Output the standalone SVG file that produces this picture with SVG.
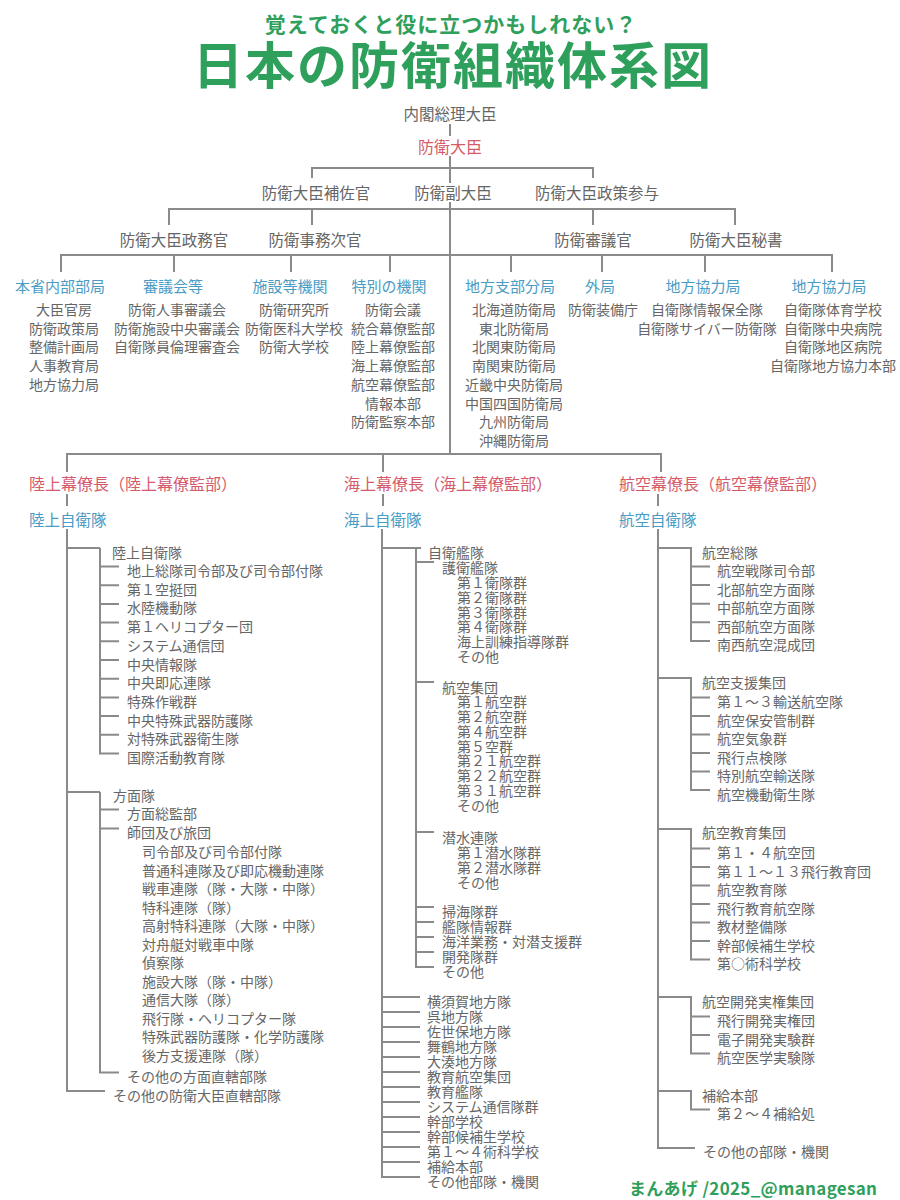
<svg xmlns="http://www.w3.org/2000/svg" width="900" height="1200" viewBox="0 0 900 1200">
<style>
text{font-family:"Noto Sans CJK JP","Noto Sans CJK SC",sans-serif;dominant-baseline:central}
.ln{stroke:#8a8a8a;stroke-width:2;fill:none}
.t{font-size:14px;fill:#666}
.o{font-size:15.5px;fill:#666}
.h{font-size:15px;fill:#4a9cc4}
.r{font-size:16px;fill:#d45a6b}
.b{font-size:15.5px;fill:#4a9cc4}
.m{text-anchor:middle}
.g{fill:#2fa05c;font-weight:bold}
</style>
<rect width="900" height="1200" fill="#fff"/>
<g id="title">
<text class="g m" x="451" y="23" font-size="21" letter-spacing="1">覚えておくと役に立つかもしれない？</text>
<text class="g m" x="453" y="62" font-size="50" font-weight="900" letter-spacing="2">日本の防衛組織体系図</text>
</g>
<g id="connectors" class="ln">
<path d="M450 124V136M450 156V183M312 178V168H593V178M450 202V454M169 225V209H735V225M312 209V225M593 209V225"/>
<path d="M61 272V255H832V272M174 255V272M291 255V272M390 255V272M511 255V272M602 255V272M705 255V272"/>
<path d="M67 472V454H661V472M383 454V472"/>
<path d="M67 494V506M383 494V506M658 494V506"/>
<!-- army -->
<path d="M67 529V1091H105M67 548H100M100 548V753.5H119M100 566.5H119M100 585.2H119M100 603.9H119M100 622.6H119M100 641.3H119M100 660H119M100 678.7H119M100 697.4H119M100 716.1H119M100 734.8H119"/>
<path d="M67 792H100M100 792V1072.5H119M100 809.5H119M100 828.5H119"/>
<!-- navy -->
<path d="M382 529V1177H420M382 548H421M416 548V967H434M416 562H434M416 682H434M416 832H434M416 907H434M416 922H434M416 937H434M416 952H434"/>
<path d="M382 997H420M382 1012H420M382 1027H420M382 1042H420M382 1057H420M382 1072H420M382 1087H420M382 1102H420M382 1117H420M382 1132H420M382 1147H420M382 1162H420"/>
<!-- air -->
<path d="M658 529V1148H695M658 548H692M658 678H692M658 829H692M658 997H692M658 1091H692"/>
<path d="M691 548V641H710M691 566.5H710M691 585.1H710M691 603.7H710M691 622.3H710"/>
<path d="M691 678V790H710M691 697.5H710M691 716H710M691 734.5H710M691 753H710M691 771.5H710"/>
<path d="M691 829V959.5H710M691 848.5H710M691 867H710M691 885.5H710M691 904H710M691 922.5H710M691 941H710"/>
<path d="M691 997V1053.5H710M691 1016.5H710M691 1035H710"/>
<path d="M691 1091V1109.5H710"/>
</g>
<g id="n-pm"><text class="o m" x="450" y="113">内閣総理大臣</text></g>
<g id="n-minister"><text class="r m" x="450" y="146" font-size="15.5">防衛大臣</text></g>
<g id="n-hosa"><text class="o m" x="316" y="192">防衛大臣補佐官</text></g>
<g id="n-fuku"><text class="o m" x="453" y="192">防衛副大臣</text></g>
<g id="n-sanyo"><text class="o m" x="597" y="192">防衛大臣政策参与</text></g>
<g id="n-seimu"><text class="o m" x="174" y="239">防衛大臣政務官</text></g>
<g id="n-jimu"><text class="o m" x="315" y="239">防衛事務次官</text></g>
<g id="n-shingi"><text class="o m" x="593" y="239">防衛審議官</text></g>
<g id="n-hisho"><text class="o m" x="736" y="239">防衛大臣秘書</text></g>
<g id="c1"><text class="h m" x="60" y="285">本省内部部局</text>
<text class="t m" x="64" y="309">大臣官房</text><text class="t m" x="64" y="327.7">防衛政策局</text><text class="t m" x="64" y="346.4">整備計画局</text><text class="t m" x="64" y="365.1">人事教育局</text><text class="t m" x="64" y="383.8">地方協力局</text></g>
<g id="c2"><text class="h m" x="173" y="285">審議会等</text>
<text class="t m" x="177" y="309">防衛人事審議会</text><text class="t m" x="177" y="327.7">防衛施設中央審議会</text><text class="t m" x="177" y="346.4">自衛隊員倫理審査会</text></g>
<g id="c3"><text class="h m" x="290" y="285">施設等機関</text>
<text class="t m" x="294" y="309">防衛研究所</text><text class="t m" x="294" y="327.7">防衛医科大学校</text><text class="t m" x="294" y="346.4">防衛大学校</text></g>
<g id="c4"><text class="h m" x="389" y="285">特別の機関</text>
<text class="t m" x="393" y="309">防衛会議</text><text class="t m" x="393" y="327.7">統合幕僚監部</text><text class="t m" x="393" y="346.4">陸上幕僚監部</text><text class="t m" x="393" y="365.1">海上幕僚監部</text><text class="t m" x="393" y="383.8">航空幕僚監部</text><text class="t m" x="393" y="402.5">情報本部</text><text class="t m" x="393" y="421.2">防衛監察本部</text></g>
<g id="c5"><text class="h m" x="510" y="285">地方支部分局</text>
<text class="t m" x="514" y="309">北海道防衛局</text><text class="t m" x="514" y="327.7">東北防衛局</text><text class="t m" x="514" y="346.4">北関東防衛局</text><text class="t m" x="514" y="365.1">南関東防衛局</text><text class="t m" x="514" y="383.8">近畿中央防衛局</text><text class="t m" x="514" y="402.5">中国四国防衛局</text><text class="t m" x="514" y="421.2">九州防衛局</text><text class="t m" x="514" y="439.9">沖縄防衛局</text></g>
<g id="c6"><text class="h m" x="600" y="285">外局</text>
<text class="t m" x="603" y="309">防衛装備庁</text></g>
<g id="c7"><text class="h m" x="703" y="285">地方協力局</text>
<text class="t m" x="707" y="309">自衛隊情報保全隊</text><text class="t m" x="707" y="327.7">自衛隊サイバー防衛隊</text></g>
<g id="c8"><text class="h m" x="829" y="285">地方協力局</text>
<text class="t m" x="833" y="309">自衛隊体育学校</text><text class="t m" x="833" y="327.7">自衛隊中央病院</text><text class="t m" x="833" y="346.4">自衛隊地区病院</text><text class="t m" x="833" y="365.1">自衛隊地方協力本部</text></g>
<g id="gsdf">
<text class="r" x="29" y="483">陸上幕僚長（陸上幕僚監部）</text>
<text class="b" x="29" y="519">陸上自衛隊</text>
<text class="t" x="112" y="552">陸上自衛隊</text>
<text class="t" x="127" y="570">地上総隊司令部及び司令部付隊</text>
<text class="t" x="127" y="588.7">第１空挺団</text>
<text class="t" x="127" y="607.4">水陸機動隊</text>
<text class="t" x="127" y="626.1">第１ヘリコプター団</text>
<text class="t" x="127" y="644.8">システム通信団</text>
<text class="t" x="127" y="663.5">中央情報隊</text>
<text class="t" x="127" y="682.2">中央即応連隊</text>
<text class="t" x="127" y="700.9">特殊作戦群</text>
<text class="t" x="127" y="719.6">中央特殊武器防護隊</text>
<text class="t" x="127" y="738.3">対特殊武器衛生隊</text>
<text class="t" x="127" y="757">国際活動教育隊</text>
<text class="t" x="113" y="795">方面隊</text>
<text class="t" x="127" y="813">方面総監部</text>
<text class="t" x="127" y="832">師団及び旅団</text>
<text class="t" x="142" y="851">司令部及び司令部付隊</text>
<text class="t" x="142" y="869.5">普通科連隊及び即応機動連隊</text>
<text class="t" x="142" y="888">戦車連隊（隊・大隊・中隊）</text>
<text class="t" x="142" y="906.5">特科連隊（隊）</text>
<text class="t" x="142" y="925">高射特科連隊（大隊・中隊）</text>
<text class="t" x="142" y="943.5">対舟艇対戦車中隊</text>
<text class="t" x="142" y="962">偵察隊</text>
<text class="t" x="142" y="980.5">施設大隊（隊・中隊）</text>
<text class="t" x="142" y="999">通信大隊（隊）</text>
<text class="t" x="142" y="1017.5">飛行隊・ヘリコプター隊</text>
<text class="t" x="142" y="1036">特殊武器防護隊・化学防護隊</text>
<text class="t" x="142" y="1054.5">後方支援連隊（隊）</text>
<text class="t" x="127" y="1076">その他の方面直轄部隊</text>
<text class="t" x="113" y="1095">その他の防衛大臣直轄部隊</text>
</g>
<g id="msdf">
<text class="r" x="344" y="483">海上幕僚長（海上幕僚監部）</text>
<text class="b" x="344" y="519">海上自衛隊</text>
<text class="t" x="428" y="552">自衛艦隊</text>
<text class="t" x="442" y="567">護衛艦隊</text>
<text class="t" x="457" y="582">第１衛隊群</text>
<text class="t" x="457" y="597">第２衛隊群</text>
<text class="t" x="457" y="611.5">第３衛隊群</text>
<text class="t" x="457" y="626">第４衛隊群</text>
<text class="t" x="457" y="641">海上訓練指導隊群</text>
<text class="t" x="457" y="656">その他</text>
<text class="t" x="442" y="687">航空集団</text>
<text class="t" x="457" y="701">第１航空群</text>
<text class="t" x="457" y="716">第２航空群</text>
<text class="t" x="457" y="731">第４航空群</text>
<text class="t" x="457" y="745.5">第５空群</text>
<text class="t" x="457" y="760">第２１航空群</text>
<text class="t" x="457" y="775">第２２航空群</text>
<text class="t" x="457" y="790">第３１航空群</text>
<text class="t" x="457" y="805">その他</text>
<text class="t" x="442" y="837">潜水連隊</text>
<text class="t" x="457" y="852">第１潜水隊群</text>
<text class="t" x="457" y="867">第２潜水隊群</text>
<text class="t" x="457" y="882">その他</text>
<text class="t" x="442" y="911">掃海隊群</text>
<text class="t" x="442" y="926">艦隊情報群</text>
<text class="t" x="442" y="941">海洋業務・対潜支援群</text>
<text class="t" x="442" y="955.5">開発隊群</text>
<text class="t" x="442" y="970.5">その他</text>
<text class="t" x="427" y="1001">横須賀地方隊</text>
<text class="t" x="427" y="1016">呉地方隊</text>
<text class="t" x="427" y="1031">佐世保地方隊</text>
<text class="t" x="427" y="1046">舞鶴地方隊</text>
<text class="t" x="427" y="1061">大湊地方隊</text>
<text class="t" x="427" y="1076">教育航空集団</text>
<text class="t" x="427" y="1091">教育艦隊</text>
<text class="t" x="427" y="1106">システム通信隊群</text>
<text class="t" x="427" y="1121">幹部学校</text>
<text class="t" x="427" y="1136">幹部候補生学校</text>
<text class="t" x="427" y="1151">第１～４術科学校</text>
<text class="t" x="427" y="1166">補給本部</text>
<text class="t" x="427" y="1181">その他部隊・機関</text>
</g>
<g id="asdf">
<text class="r" x="619" y="483">航空幕僚長（航空幕僚監部）</text>
<text class="b" x="619" y="519">航空自衛隊</text>
<text class="t" x="702" y="552">航空総隊</text>
<text class="t" x="717" y="570">航空戦隊司令部</text>
<text class="t" x="717" y="588.6">北部航空方面隊</text>
<text class="t" x="717" y="607.2">中部航空方面隊</text>
<text class="t" x="717" y="625.8">西部航空方面隊</text>
<text class="t" x="717" y="644.4">南西航空混成団</text>
<text class="t" x="702" y="682">航空支援集団</text>
<text class="t" x="717" y="701">第１～３輸送航空隊</text>
<text class="t" x="717" y="719.5">航空保安管制群</text>
<text class="t" x="717" y="738">航空気象群</text>
<text class="t" x="717" y="756.5">飛行点検隊</text>
<text class="t" x="717" y="775">特別航空輸送隊</text>
<text class="t" x="717" y="793.5">航空機動衛生隊</text>
<text class="t" x="702" y="832">航空教育集団</text>
<text class="t" x="717" y="852">第１・４航空団</text>
<text class="t" x="717" y="870.5">第１１～１３飛行教育団</text>
<text class="t" x="717" y="889">航空教育隊</text>
<text class="t" x="717" y="907.5">飛行教育航空隊</text>
<text class="t" x="717" y="926">教材整備隊</text>
<text class="t" x="717" y="944.5">幹部候補生学校</text>
<text class="t" x="717" y="963">第○術科学校</text>
<text class="t" x="702" y="1001">航空開発実権集団</text>
<text class="t" x="717" y="1020">飛行開発実権団</text>
<text class="t" x="717" y="1038.5">電子開発実験群</text>
<text class="t" x="717" y="1057">航空医学実験隊</text>
<text class="t" x="702" y="1095">補給本部</text>
<text class="t" x="717" y="1113">第２～４補給処</text>
<text class="t" x="703" y="1151">その他の部隊・機関</text>
</g>
<g id="footer"><text class="g" x="629" y="1187" font-size="17" textLength="248" lengthAdjust="spacing">まんあげ /2025_@managesan</text></g>
</svg>
